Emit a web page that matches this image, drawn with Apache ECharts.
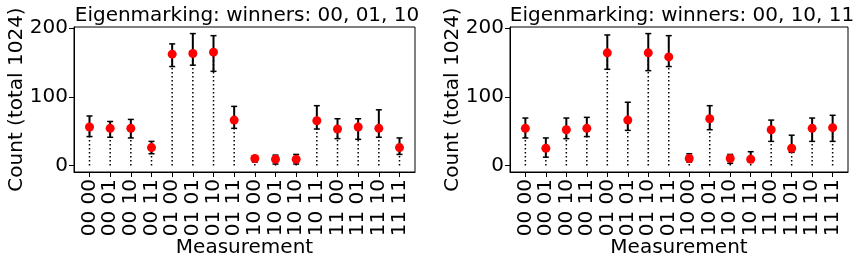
<!DOCTYPE html>
<html>
<head>
<meta charset="utf-8">
<script src="https://cdn.jsdelivr.net/npm/echarts@6/dist/echarts.min.js"></script>
<style>
  html, body { margin: 0; padding: 0; background: #fff; }
  #chart { width: 854px; height: 261px; }
</style>
</head>
<body>
<div id="chart"></div>
<script>
const categories = [
  "00 00", "00 01", "00 10", "00 11", "01 00", "01 01", "01 10", "01 11",
  "10 00", "10 01", "10 10", "10 11", "11 00", "11 01", "11 10", "11 11",
];
const titles = ["Eigenmarking: winners: 00, 01, 10", "Eigenmarking: winners: 00, 10, 11"];
const yTicks = [0, 100, 200];

// left panel
const countsA = [56, 54, 54, 26, 162, 163, 165, 66, 10, 9, 9, 65, 53, 56, 54, 26];
const lowA = [42, 41, 40, 17, 144, 146, 137, 54, 5, 2, 2, 53, 39, 38, 41, 16];
const highA = [72, 64, 67, 35, 177, 192, 189, 86, 14, 15, 16, 87, 68, 68, 81, 40];

// right panel
const countsB = [54, 25, 52, 54, 164, 66, 164, 158, 10, 68, 10, 9, 52, 25, 54, 55];
const lowB = [40, 12, 39, 42, 140, 51, 138, 144, 5, 52, 3, 5, 35, 19, 35, 35];
const highB = [69, 40, 69, 70, 190, 92, 192, 189, 17, 87, 16, 20, 66, 44, 69, 73];

const FONT = "DejaVu Sans";
const FS = 20;
const idx = categories.map((_, i) => i);

const chart = echarts.init(document.getElementById("chart"), null, { renderer: "canvas" });

const grids = [
  { left: 74, right: 439, top: 27, bottom: 89 },
  { left: 510, right: 6, top: 27, bottom: 89 },
];

const makeX = (gi) => ({
  type: "value",
  gridIndex: gi,
  min: -0.75,
  max: 15.75,
  name: "Measurement",
  nameLocation: "middle",
  nameGap: 66,
  nameMoveOverlap: false,
  nameTextStyle: { color: "#000", fontFamily: FONT, fontSize: FS },
  splitLine: { show: false },
  axisLine: { show: true, onZero: false, lineStyle: { color: "#000", width: 1 } },
  axisTick: { show: true, length: 5, customValues: idx, lineStyle: { color: "#000" } },
  axisLabel: {
    customValues: idx,
    rotate: 90,
    margin: 7,
    color: "#000",
    fontFamily: FONT,
    fontSize: FS,
    formatter: (v) => categories[Math.round(v)],
  },
});

const makeY = (gi) => ({
  type: "value",
  gridIndex: gi,
  min: -9.6,
  max: 201.6,
  name: "Count (total 1024)",
  nameLocation: "middle",
  nameGap: 47,
  nameMoveOverlap: false,
  nameTextStyle: { color: "#000", fontFamily: FONT, fontSize: FS },
  splitLine: { show: false },
  axisLine: { show: true, onZero: false, lineStyle: { color: "#000", width: 1 } },
  axisTick: { show: true, length: 5, customValues: yTicks, lineStyle: { color: "#000" } },
  axisLabel: {
    customValues: yTicks,
    margin: 6,
    color: "#000",
    fontFamily: FONT,
    fontSize: FS,
  },
});

const stemSeries = (gi, counts) => ({
  type: "custom",
  xAxisIndex: gi,
  yAxisIndex: gi,
  z: 1,
  data: counts.map((c, i) => [i, c]),
  encode: { x: 0, y: 1 },
  renderItem: (params, api) => {
    const p0 = api.coord([api.value(0), 0]);
    const p1 = api.coord([api.value(0), api.value(1)]);
    return {
      type: "line",
      shape: { x1: p0[0], y1: p0[1], x2: p1[0], y2: p1[1] },
      style: { stroke: "#000", lineWidth: 1.5, lineDash: [1.5, 2.5] },
    };
  },
});

const errSeries = (gi, low, high) => ({
  type: "custom",
  xAxisIndex: gi,
  yAxisIndex: gi,
  z: 2,
  data: low.map((l, i) => [i, l, high[i]]),
  encode: { x: 0, y: [1, 2] },
  renderItem: (params, api) => {
    const x = api.value(0);
    const bot = api.coord([x, api.value(1)]);
    const top = api.coord([x, api.value(2)]);
    const cap = 3;
    const capStyle = { stroke: "#000", lineWidth: 1.5 };
    return {
      type: "group",
      children: [
        { type: "line", shape: { x1: top[0], y1: top[1], x2: bot[0], y2: bot[1] }, style: { stroke: "#000", lineWidth: 2 } },
        { type: "line", shape: { x1: top[0] - cap, y1: top[1], x2: top[0] + cap, y2: top[1] }, style: capStyle },
        { type: "line", shape: { x1: bot[0] - cap, y1: bot[1], x2: bot[0] + cap, y2: bot[1] }, style: capStyle },
      ],
    };
  },
});

const dotSeries = (gi, counts) => ({
  type: "scatter",
  xAxisIndex: gi,
  yAxisIndex: gi,
  z: 3,
  symbol: "circle",
  symbolSize: 9,
  itemStyle: { color: "#ff0000", opacity: 1 },
  data: counts.map((c, i) => [i, c]),
});

chart.setOption({
  animation: false,
  backgroundColor: "#fff",
  title: [
    { text: titles[0], left: 242, top: 1, textAlign: "center", textStyle: { color: "#000", fontFamily: FONT, fontSize: FS, fontWeight: "normal" } },
    { text: titles[1], left: 677, top: 1, textAlign: "center", textStyle: { color: "#000", fontFamily: FONT, fontSize: FS, fontWeight: "normal" } },
  ],
  grid: grids.map((g) => ({
    ...g,
    outerBoundsMode: "none",
    show: true,
    borderColor: "#000",
    borderWidth: 1,
    backgroundColor: "transparent",
  })),
  xAxis: [makeX(0), makeX(1)],
  yAxis: [makeY(0), makeY(1)],
  series: [
    stemSeries(0, countsA),
    errSeries(0, lowA, highA),
    dotSeries(0, countsA),
    stemSeries(1, countsB),
    errSeries(1, lowB, highB),
    dotSeries(1, countsB),
  ],
});
</script>
</body>
</html>
